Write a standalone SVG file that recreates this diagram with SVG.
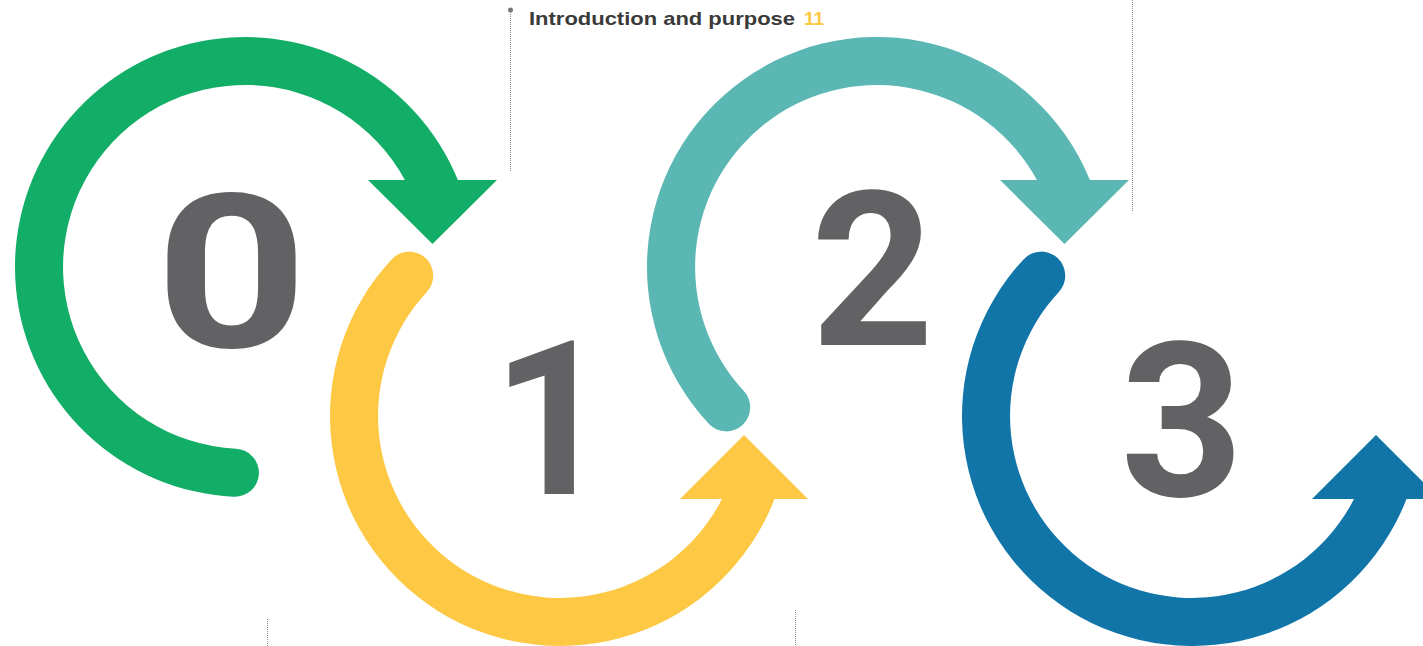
<svg xmlns="http://www.w3.org/2000/svg" width="1423" height="646" viewBox="0 0 1423 646">
<style>
.digit{font-family:Roboto,"Liberation Sans",Arial,sans-serif;font-weight:bold;font-size:215px;fill:#626264;text-anchor:middle}
.title{font-family:"Liberation Sans",Arial,sans-serif;font-weight:bold;font-size:19px;fill:#3a3a3a}
.num{font-family:"Liberation Sans",Arial,sans-serif;font-weight:bold;font-size:19px;fill:#fdc843}
.dots{stroke:#8a8a8a;stroke-width:1;stroke-dasharray:1 1;fill:none}
</style>
<rect width="1423" height="646" fill="#ffffff"/>
<g id="guides">
<line class="dots" x1="510.5" y1="10" x2="510.5" y2="171"/>
<circle cx="510.5" cy="10" r="2.5" fill="#777"/>
<line class="dots" x1="1132.5" y1="0" x2="1132.5" y2="212"/>
<line class="dots" x1="267.5" y1="619" x2="267.5" y2="646"/>
<line class="dots" x1="795.5" y1="610" x2="795.5" y2="646"/>
</g>
<g id="header">
<text class="title" x="529" y="25" textLength="266" lengthAdjust="spacingAndGlyphs">Introduction and purpose</text>
<text class="num" x="804" y="25">11</text>
</g>
<g id="connectors">
<path id="arrow-0" fill="#12ad66" d="M 233.76 496.73 A 230 230 0 1 1 457.9 180 L 497 180 L 432.5 244 L 368 180 L 404.9 180 A 182 182 0 1 0 236.11 448.78 A 24 24 0 0 1 233.76 496.73 Z"/>
<path id="arrow-1" fill="#fdc843" d="M 391.79 259.14 A 230 230 0 1 0 774.5 499 L 808 499 L 744 435 L 680 499 L 722 499 A 182 182 0 1 1 426.89 291.88 A 24 24 0 0 0 391.79 259.14 Z"/>
<path id="arrow-2" fill="#5bb7b3" d="M 708.79 423.86 A 230 230 0 1 1 1089.9 180 L 1129 180 L 1064.5 244 L 1000 180 L 1036.9 180 A 182 182 0 1 0 743.89 391.12 A 24 24 0 0 1 708.79 423.86 Z"/>
<path id="arrow-3" fill="#1175a8" transform="translate(632,0)" d="M 391.79 259.14 A 230 230 0 1 0 774.5 499 L 808 499 L 744 435 L 680 499 L 722 499 A 182 182 0 1 1 426.89 291.88 A 24 24 0 0 0 391.79 259.14 Z"/>
</g>
<g id="step-0"><text class="digit" transform="translate(231.5,347) scale(1.24,1)">0</text></g>
<g id="step-1"><text class="digit" transform="translate(552,494) scale(0.97,1)">1</text></g>
<g id="step-2"><text class="digit" transform="translate(872.5,345) scale(1.0,1)">2</text></g>
<g id="step-3"><text class="digit" transform="translate(1182,496) scale(1.0,1)">3</text></g>
</svg>
